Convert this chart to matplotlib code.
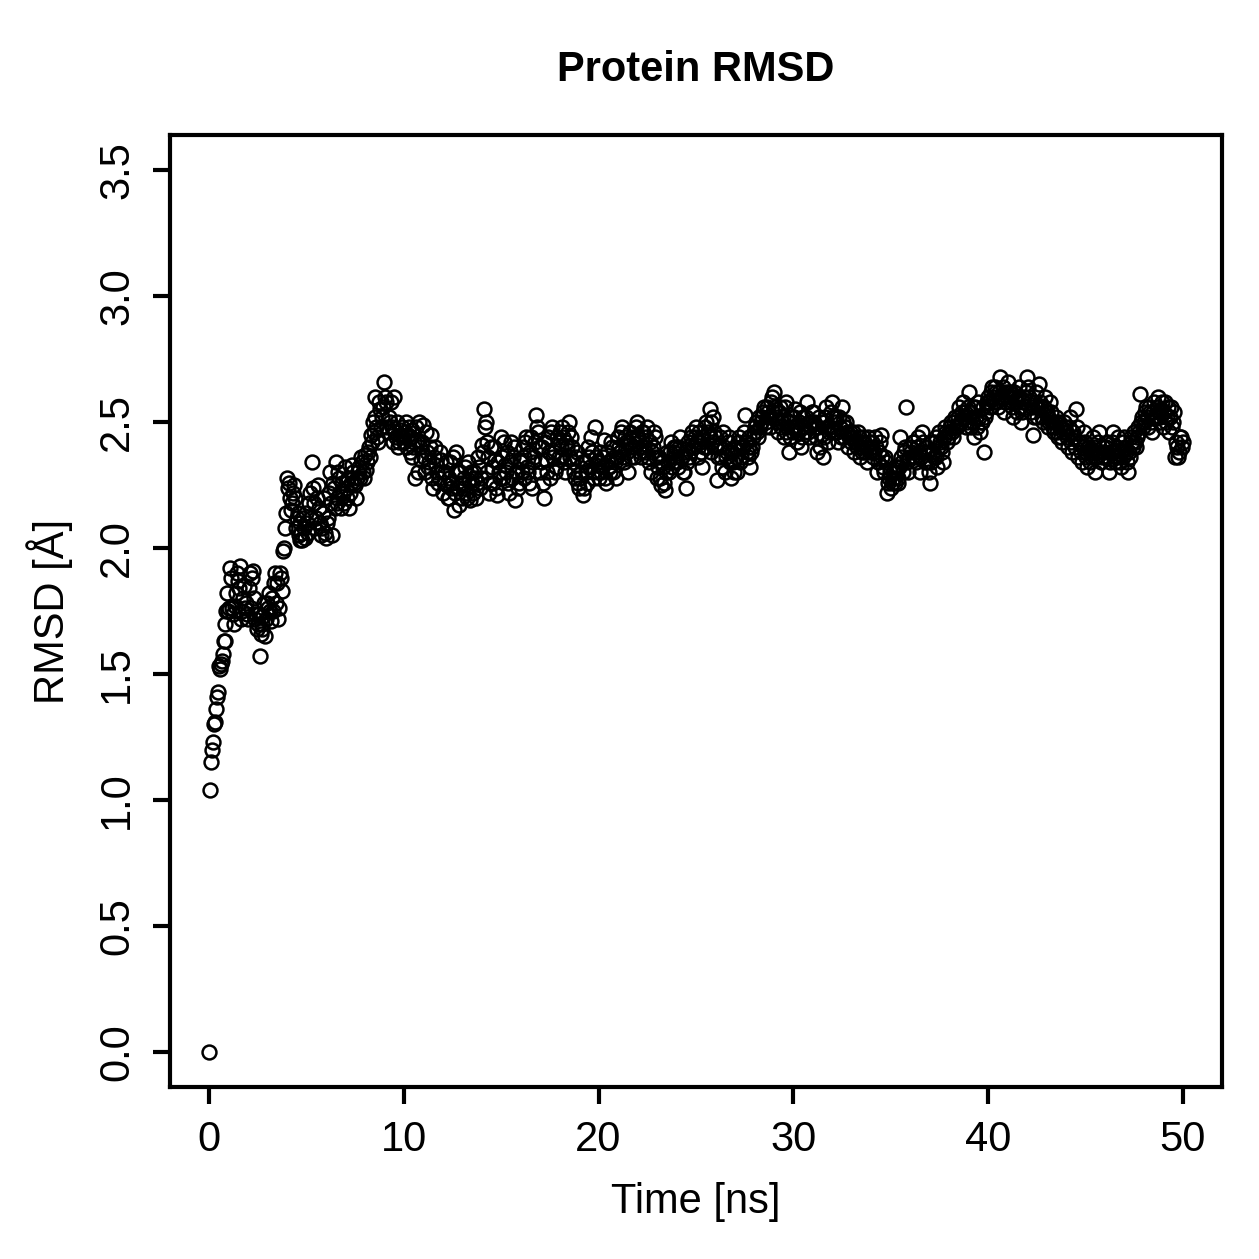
import numpy as np
import matplotlib
matplotlib.use("Agg")
from matplotlib import pyplot as plt

plt.rcParams['font.family'] = ['Liberation Sans', 'DejaVu Sans']

# RMSD values at t = 0.0, 0.1, ... 50.0 ns
rmsd = [
    0.00, 1.15, 1.23, 1.31, 1.41, 1.53, 1.54, 1.58, 1.63, 1.75,
    1.75, 1.92, 1.76, 1.70, 1.82, 1.87, 1.93, 1.75, 1.85, 1.78,
    1.72, 1.90, 1.88, 1.80, 1.74, 1.70, 1.57, 1.68, 1.73, 1.65,
    1.78, 1.82, 1.71, 1.75, 1.90, 1.86, 1.76, 1.88, 1.99, 2.08,
    2.28, 2.26, 2.15, 2.22, 2.20, 2.12, 2.05, 2.10, 2.03, 2.08,
    2.14, 2.06, 2.22, 2.34, 2.18, 2.12, 2.25, 2.10, 2.08, 2.20,
    2.04, 2.12, 2.30, 2.05, 2.24, 2.34, 2.18, 2.28, 2.16, 2.22,
    2.32, 2.20, 2.16, 2.26, 2.30, 2.25, 2.28, 2.32, 2.36, 2.30,
    2.37, 2.34, 2.40, 2.45, 2.50, 2.60, 2.48, 2.42, 2.55, 2.52,
    2.66, 2.58, 2.46, 2.50, 2.48, 2.60, 2.44, 2.40, 2.45, 2.48,
    2.42, 2.50, 2.45, 2.38, 2.47, 2.40, 2.28, 2.43, 2.50, 2.35,
    2.49, 2.30, 2.38, 2.34, 2.45, 2.24, 2.40, 2.30, 2.28, 2.35,
    2.22, 2.30, 2.25, 2.20, 2.34, 2.26, 2.15, 2.38, 2.24, 2.30,
    2.20, 2.28, 2.22, 2.34, 2.19, 2.26, 2.30, 2.20, 2.36, 2.24,
    2.41, 2.55, 2.50, 2.30, 2.22, 2.40, 2.26, 2.35, 2.21, 2.30,
    2.44, 2.28, 2.33, 2.38, 2.22, 2.42, 2.36, 2.19, 2.30, 2.26,
    2.34, 2.40, 2.28, 2.44, 2.30, 2.38, 2.24, 2.36, 2.53, 2.46,
    2.30, 2.40, 2.20, 2.35, 2.44, 2.28, 2.48, 2.38, 2.32, 2.42,
    2.46, 2.36, 2.44, 2.30, 2.40, 2.50, 2.44, 2.34, 2.28, 2.38,
    2.24, 2.30, 2.21, 2.34, 2.26, 2.36, 2.44, 2.30, 2.48, 2.34,
    2.28, 2.38, 2.32, 2.43, 2.26, 2.34, 2.30, 2.40, 2.36, 2.28,
    2.44, 2.38, 2.48, 2.34, 2.42, 2.30, 2.46, 2.40, 2.36, 2.44,
    2.50, 2.42, 2.36, 2.46, 2.38, 2.48, 2.34, 2.30, 2.40, 2.44,
    2.28, 2.36, 2.25, 2.32, 2.23, 2.38, 2.30, 2.42, 2.34, 2.38,
    2.40, 2.32, 2.44, 2.36, 2.30, 2.24, 2.42, 2.38, 2.46, 2.40,
    2.48, 2.36, 2.42, 2.32, 2.40, 2.50, 2.46, 2.55, 2.38, 2.52,
    2.44, 2.27, 2.40, 2.36, 2.46, 2.30, 2.38, 2.44, 2.28, 2.34,
    2.40, 2.30, 2.44, 2.36, 2.40, 2.53, 2.38, 2.44, 2.32, 2.40,
    2.46, 2.50, 2.44, 2.48, 2.52, 2.56, 2.50, 2.54, 2.48, 2.60,
    2.62, 2.52, 2.46, 2.56, 2.50, 2.44, 2.58, 2.48, 2.38, 2.52,
    2.46, 2.55, 2.42, 2.50, 2.40, 2.52, 2.46, 2.58, 2.44, 2.50,
    2.54, 2.48, 2.38, 2.52, 2.45, 2.36, 2.50, 2.56, 2.42, 2.48,
    2.58, 2.46, 2.52, 2.42, 2.48, 2.56, 2.44, 2.50, 2.40, 2.46,
    2.44, 2.38, 2.42, 2.46, 2.36, 2.40, 2.44, 2.38, 2.34, 2.42,
    2.40, 2.36, 2.44, 2.30, 2.38, 2.45, 2.32, 2.36, 2.22, 2.28,
    2.24, 2.30, 2.26, 2.32, 2.28, 2.44, 2.34, 2.38, 2.56, 2.30,
    2.40, 2.36, 2.42, 2.34, 2.44, 2.30, 2.46, 2.38, 2.40, 2.34,
    2.26, 2.42, 2.36, 2.44, 2.32, 2.46, 2.40, 2.34, 2.48, 2.42,
    2.46, 2.50, 2.44, 2.52, 2.48, 2.56, 2.50, 2.58, 2.54, 2.50,
    2.62, 2.48, 2.56, 2.44, 2.52, 2.58, 2.46, 2.50, 2.38, 2.54,
    2.60, 2.56, 2.64, 2.58, 2.62, 2.56, 2.68, 2.60, 2.54, 2.62,
    2.66, 2.58, 2.62, 2.52, 2.60, 2.54, 2.64, 2.50, 2.58, 2.56,
    2.68, 2.60, 2.54, 2.45, 2.58, 2.52, 2.65, 2.56, 2.50, 2.60,
    2.54, 2.48, 2.58, 2.50, 2.46, 2.52, 2.44, 2.48, 2.42, 2.50,
    2.46, 2.40, 2.52, 2.38, 2.44, 2.55, 2.36, 2.42, 2.34, 2.46,
    2.38, 2.32, 2.40, 2.36, 2.44, 2.30, 2.38, 2.46, 2.34, 2.40,
    2.36, 2.42, 2.30, 2.38, 2.46, 2.34, 2.40, 2.36, 2.32, 2.42,
    2.44, 2.38, 2.30, 2.36, 2.42, 2.46, 2.40, 2.48, 2.61, 2.52,
    2.50, 2.56, 2.48, 2.54, 2.46, 2.58, 2.52, 2.60, 2.50, 2.55,
    2.48, 2.58, 2.52, 2.46, 2.56, 2.50, 2.36, 2.40, 2.38, 2.44,
    2.42,
]

# RMSD values at the in-between frames, t = 0.05, 0.15, ... 49.95 ns
rmsd_mid = [
    1.04, 1.20, 1.30, 1.36, 1.43, 1.52, 1.55, 1.63, 1.70, 1.82,
    1.76, 1.88, 1.74, 1.77, 1.90, 1.84, 1.72, 1.80, 1.76, 1.74,
    1.84, 1.76, 1.91, 1.72, 1.68, 1.74, 1.66, 1.70, 1.78, 1.72,
    1.76, 1.75, 1.80, 1.86, 1.78, 1.72, 1.90, 1.83, 2.00, 2.14,
    2.24, 2.20, 2.18, 2.25, 2.08, 2.14, 2.03, 2.06, 2.12, 2.04,
    2.10, 2.18, 2.12, 2.24, 2.08, 2.20, 2.16, 2.05, 2.14, 2.06,
    2.10, 2.22, 2.18, 2.26, 2.16, 2.20, 2.30, 2.22, 2.26, 2.18,
    2.24, 2.28, 2.22, 2.33, 2.26, 2.20, 2.30, 2.28, 2.34, 2.28,
    2.31, 2.38, 2.36, 2.42, 2.46, 2.52, 2.44, 2.58, 2.48, 2.56,
    2.60, 2.48, 2.52, 2.58, 2.42, 2.46, 2.50, 2.42, 2.47, 2.44,
    2.46, 2.40, 2.48, 2.44, 2.36, 2.42, 2.48, 2.30, 2.40, 2.42,
    2.36, 2.46, 2.32, 2.40, 2.28, 2.36, 2.33, 2.26, 2.38, 2.30,
    2.26, 2.34, 2.20, 2.28, 2.24, 2.36, 2.22, 2.30, 2.17, 2.26,
    2.24, 2.32, 2.20, 2.27, 2.30, 2.22, 2.28, 2.26, 2.32, 2.28,
    2.38, 2.48, 2.42, 2.36, 2.26, 2.32, 2.40, 2.24, 2.34, 2.28,
    2.36, 2.42, 2.30, 2.26, 2.34, 2.28, 2.40, 2.30, 2.24, 2.35,
    2.30, 2.36, 2.42, 2.32, 2.26, 2.44, 2.34, 2.42, 2.48, 2.40,
    2.34, 2.26, 2.42, 2.30, 2.38, 2.46, 2.36, 2.30, 2.44, 2.36,
    2.40, 2.48, 2.34, 2.42, 2.46, 2.36, 2.40, 2.30, 2.36, 2.26,
    2.28, 2.34, 2.24, 2.30, 2.40, 2.32, 2.38, 2.28, 2.36, 2.30,
    2.34, 2.30, 2.36, 2.28, 2.38, 2.32, 2.42, 2.30, 2.34, 2.36,
    2.40, 2.46, 2.36, 2.44, 2.38, 2.42, 2.36, 2.44, 2.40, 2.48,
    2.44, 2.38, 2.46, 2.40, 2.44, 2.36, 2.42, 2.38, 2.46, 2.36,
    2.32, 2.28, 2.34, 2.26, 2.30, 2.34, 2.38, 2.32, 2.40, 2.36,
    2.34, 2.40, 2.36, 2.30, 2.38, 2.34, 2.36, 2.44, 2.40, 2.44,
    2.42, 2.46, 2.38, 2.44, 2.48, 2.40, 2.44, 2.50, 2.42, 2.46,
    2.40, 2.36, 2.44, 2.32, 2.40, 2.36, 2.42, 2.34, 2.38, 2.30,
    2.36, 2.42, 2.34, 2.40, 2.46, 2.42, 2.36, 2.40, 2.38, 2.44,
    2.48, 2.46, 2.52, 2.50, 2.54, 2.48, 2.56, 2.52, 2.58, 2.54,
    2.56, 2.50, 2.54, 2.48, 2.52, 2.56, 2.46, 2.50, 2.44, 2.48,
    2.52, 2.48, 2.46, 2.54, 2.44, 2.48, 2.52, 2.46, 2.50, 2.54,
    2.50, 2.44, 2.48, 2.40, 2.50, 2.44, 2.52, 2.48, 2.46, 2.54,
    2.52, 2.50, 2.46, 2.52, 2.44, 2.50, 2.48, 2.46, 2.44, 2.42,
    2.46, 2.42, 2.40, 2.44, 2.40, 2.38, 2.42, 2.40, 2.44, 2.38,
    2.42, 2.38, 2.40, 2.34, 2.42, 2.36, 2.30, 2.34, 2.26, 2.30,
    2.26, 2.28, 2.30, 2.26, 2.32, 2.36, 2.30, 2.40, 2.34, 2.36,
    2.38, 2.42, 2.36, 2.40, 2.38, 2.36, 2.42, 2.34, 2.38, 2.30,
    2.34, 2.38, 2.42, 2.36, 2.40, 2.42, 2.38, 2.44, 2.46, 2.44,
    2.48, 2.46, 2.50, 2.48, 2.52, 2.50, 2.54, 2.52, 2.48, 2.56,
    2.54, 2.52, 2.50, 2.56, 2.48, 2.52, 2.50, 2.56, 2.52, 2.58,
    2.58, 2.62, 2.60, 2.64, 2.58, 2.62, 2.60, 2.64, 2.58, 2.60,
    2.62, 2.60, 2.56, 2.62, 2.58, 2.60, 2.56, 2.54, 2.60, 2.62,
    2.64, 2.58, 2.56, 2.52, 2.62, 2.56, 2.58, 2.52, 2.56, 2.54,
    2.52, 2.50, 2.54, 2.48, 2.50, 2.46, 2.50, 2.44, 2.46, 2.48,
    2.44, 2.48, 2.42, 2.46, 2.40, 2.48, 2.42, 2.38, 2.40, 2.42,
    2.36, 2.40, 2.34, 2.38, 2.40, 2.36, 2.42, 2.38, 2.36, 2.38,
    2.40, 2.36, 2.34, 2.42, 2.38, 2.36, 2.44, 2.34, 2.38, 2.36,
    2.40, 2.34, 2.38, 2.44, 2.40, 2.42, 2.44, 2.46, 2.50, 2.48,
    2.54, 2.52, 2.56, 2.50, 2.54, 2.52, 2.56, 2.54, 2.52, 2.58,
    2.54, 2.50, 2.56, 2.52, 2.48, 2.54, 2.42, 2.36, 2.44, 2.40,
]

time_ns = np.arange(len(rmsd)) * 0.1
time_mid = np.arange(len(rmsd_mid)) * 0.1 + 0.05

xticks = [0, 10, 20, 30, 40, 50]
yticks = [0.0, 0.5, 1.0, 1.5, 2.0, 2.5, 3.0, 3.5]

fig = plt.figure(figsize=(12.59, 12.59), dpi=100)
ax = fig.add_axes([0.135, 0.1366, 0.8355, 0.7562])

t_all = np.concatenate([time_ns, time_mid])
y_all = np.concatenate([rmsd, rmsd_mid])
ax.plot(t_all, y_all, linestyle="none", marker="o", markersize=10,
        markerfacecolor="none", markeredgecolor="black", markeredgewidth=1.8)

ax.set_xlim(-2, 52)
ax.set_ylim(-0.14, 3.64)
ax.set_xticks(xticks)
ax.set_xticklabels([str(t) for t in xticks])
ax.set_yticks(yticks)
ax.set_yticklabels(["%.1f" % t for t in yticks], rotation=90, va="center")

ax.tick_params(direction="out", length=12.5, width=3, labelsize=30, pad=11)
for s in ax.spines.values():
    s.set_linewidth(3)

ax.text(0.5, 1.068, "Protein RMSD", transform=ax.transAxes, ha="center",
        va="center", fontsize=30, fontweight="bold")
ax.text(0.5, -0.121, "Time [ns]", transform=ax.transAxes, ha="center",
        va="center", fontsize=30)
ax.text(-0.114, 0.5, "RMSD [Å]", transform=ax.transAxes, ha="center",
        va="center", fontsize=30, rotation=90)

plt.savefig("out.png", dpi=100)
